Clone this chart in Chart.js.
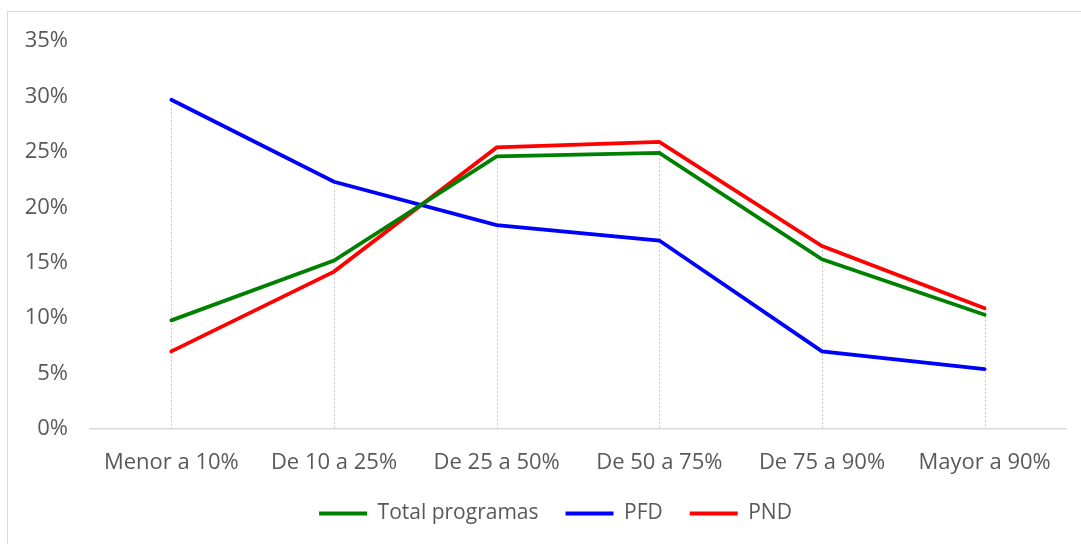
<!DOCTYPE html>
<html>
<head>
<meta charset="utf-8">
<script src="https://cdn.jsdelivr.net/npm/chart.js@4/dist/chart.umd.min.js"></script>
<style>
  body { margin: 0; background: #fff; }
  #box { position: absolute; left: 7px; top: 11px; width: 1073px; height: 533px; border: 1px solid #d9d9d9; }
</style>
</head>
<body>
<div id="box"><canvas id="lineChart" width="1073" height="533"></canvas></div>
<script>
const categories = ['Menor a 10%', 'De 10 a 25%', 'De 25 a 50%', 'De 50 a 75%', 'De 75 a 90%', 'Mayor a 90%'];
const totalProgramas = [9.8, 15.2, 24.6, 24.9, 15.3, 10.3];
const pfd = [29.7, 22.3, 18.4, 17.0, 7.0, 5.4];
const pnd = [7.0, 14.2, 25.4, 25.9, 16.5, 10.9];
const yTicks = [0, 5, 10, 15, 20, 25, 30, 35];

// dotted drop lines from the highest point of each category down to the axis
const dropLines = {
    id: 'dropLines',
    beforeDatasetsDraw(chart){
        const ctx = chart.ctx;
        const x = chart.scales.x, y = chart.scales.y;
        ctx.save();
        ctx.strokeStyle = '#c8c8c8';
        ctx.lineWidth = 1;
        ctx.setLineDash([2, 2]);
        categories.forEach((c, i) => {
            const top = Math.max(totalProgramas[i], pfd[i], pnd[i]);
            const px = Math.round(x.getPixelForValue(i)) + 0.5;
            ctx.beginPath();
            ctx.moveTo(px, y.getPixelForValue(top));
            ctx.lineTo(px, y.getPixelForValue(0));
            ctx.stroke();
        });
        ctx.restore();
    }
};

// legend sits a bit right of the canvas centre in the original
const legendShift = {
    id: 'legendShift',
    afterLayout(chart){
        chart.legend.left += 37;
    }
};

function serie(label, data, color){
    return {
        label: label,
        data: data,
        borderColor: color,
        backgroundColor: color,
        borderWidth: 3.8,
        borderCapStyle: 'round',
        pointRadius: 0,
        tension: 0,
        fill: false
    };
}

const ctx = document.getElementById('lineChart').getContext('2d');
new Chart(ctx, {
    type: 'line',
    data: {
        labels: categories,
        datasets: [
            serie('Total programas', totalProgramas, '#008000'),
            serie('PFD', pfd, '#0000ff'),
            serie('PND', pnd, '#ff0000')
        ]
    },
    plugins: [dropLines, legendShift],
    options: {
        responsive: false,
        animation: false,
        layout: { padding: { left: 0, right: 15, top: 29, bottom: 11 } },
        plugins: {
            tooltip: { enabled: false },
            legend: {
                position: 'bottom',
                labels: {
                    usePointStyle: true,
                    pointStyle: 'line',
                    pointStyleWidth: 48,
                    padding: 27,
                    color: '#595959',
                    font: { family: 'Open Sans', size: 21 }
                }
            }
        },
        scales: {
            x: {
                offset: true,
                grid: { display: false },
                border: { display: true, color: '#d9d9d9', width: 1.5 },
                ticks: { color: '#595959', padding: 13, font: { family: 'Open Sans', size: 22 }, maxRotation: 0 },
                afterFit(scale){ scale.height = 47; }
            },
            y: {
                min: 0,
                max: 35,
                afterBuildTicks(scale){ scale.ticks = yTicks.map(v => ({ value: v })); },
                grid: { display: false },
                border: { display: false },
                ticks: {
                    color: '#595959',
                    padding: 14,
                    font: { family: 'Open Sans', size: 22 },
                    callback: v => v + '%'
                },
                afterFit(scale){ scale.width = 82; }
            }
        }
    }
});
</script>
</body>
</html>
